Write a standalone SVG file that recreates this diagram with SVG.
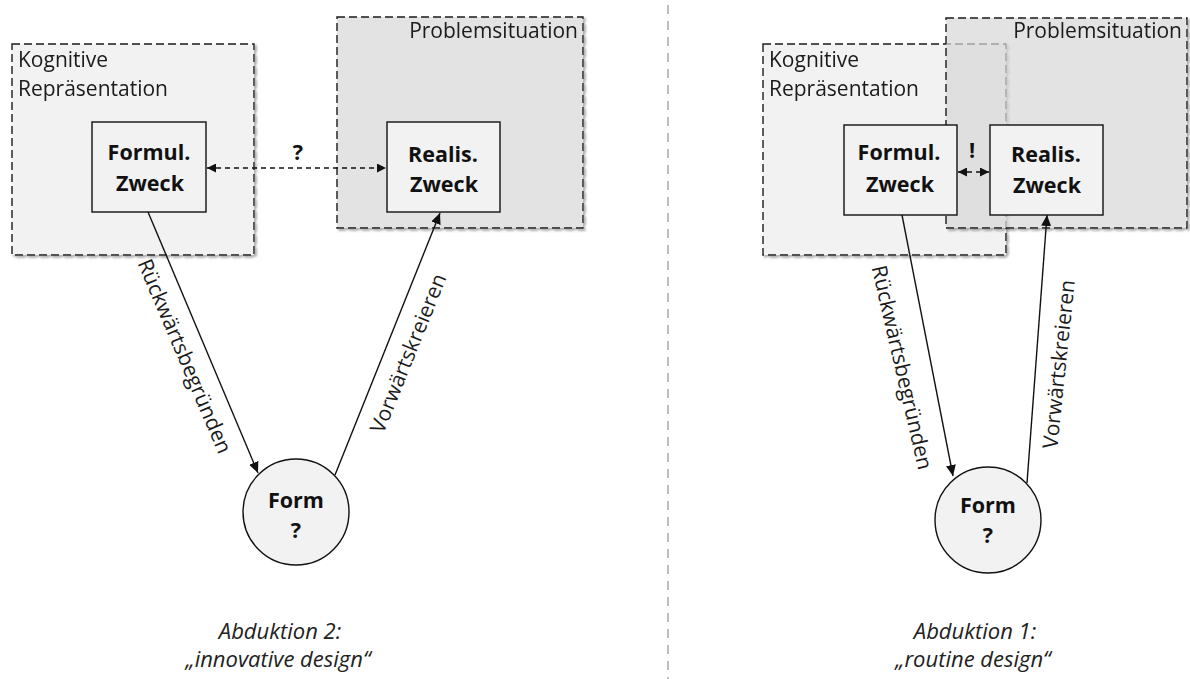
<svg xmlns="http://www.w3.org/2000/svg" width="1190" height="679" viewBox="0 0 1190 679">
  <defs>
    <style>
      .frame { stroke: #1a1a1a; stroke-width: 1.4; stroke-dasharray: 8 4; }
      .cog { fill: #f2f2f2; }
      .prob { fill: #d7d7d7; fill-opacity: 0.71; }
      .box { fill: #f2f2f2; stroke: #111; stroke-width: 1.4; }
      .lbl { font-family: "Open Sans", "Noto Sans", sans-serif; font-size: 21px; fill: #1a1a1a; }
      .bold { font-family: "Open Sans", "Noto Sans", sans-serif; font-size: 21.5px; font-weight: bold; fill: #111; text-anchor: middle; }
      .cap { font-family: "Open Sans", "Noto Sans", sans-serif; font-size: 22px; font-style: italic; fill: #222; text-anchor: middle; }
      .edge { stroke: #111; stroke-width: 1.4; fill: none; }
      .dashed { stroke: #111; stroke-width: 1.4; stroke-dasharray: 5 4; fill: none; }
      .divider { stroke: #bdbdbd; stroke-width: 2; stroke-dasharray: 9 7; }
    </style>
    <!-- soft shadow kept outside the shape so translucent fills stay clean -->
    <filter id="shadow" x="-5%" y="-5%" width="112%" height="112%">
      <feComponentTransfer in="SourceAlpha" result="solid">
        <feFuncA type="linear" slope="100"/>
      </feComponentTransfer>
      <feGaussianBlur in="solid" stdDeviation="1"/>
      <feOffset dx="1.5" dy="1.5" result="blur"/>
      <feComposite in="blur" in2="solid" operator="out" result="sh"/>
      <feFlood flood-color="#000" flood-opacity="0.3"/>
      <feComposite in2="sh" operator="in" result="shadow"/>
      <feMerge>
        <feMergeNode in="shadow"/>
        <feMergeNode in="SourceGraphic"/>
      </feMerge>
    </filter>
    <marker id="head" markerUnits="userSpaceOnUse" markerWidth="12" markerHeight="10" refX="11" refY="5" orient="auto-start-reverse">
      <path d="M0,0 L11,5 L0,10 Z" fill="#111"/>
    </marker>
    <marker id="headSmall" markerUnits="userSpaceOnUse" markerWidth="10" markerHeight="9" refX="9" refY="4.5" orient="auto-start-reverse">
      <path d="M0,0 L9,4.5 L0,9 Z" fill="#111"/>
    </marker>
  </defs>

  <rect width="1190" height="679" fill="#ffffff"/>

  <!-- separator between the two variants -->
  <line class="divider" x1="668" y1="5" x2="668" y2="679"/>

  <!-- ===== left variant: innovative design ===== -->
  <g id="kognitive-left" filter="url(#shadow)">
    <rect class="cog frame" x="12" y="44" width="242" height="211"/>
    <text class="lbl" x="18" y="67">Kognitive</text>
    <text class="lbl" x="18" y="96">Repräsentation</text>
  </g>
  <g id="problem-left" filter="url(#shadow)">
    <rect class="prob frame" x="337" y="17" width="246" height="211"/>
    <text class="lbl" x="578" y="38" text-anchor="end">Problemsituation</text>
  </g>
  <g id="formul-left">
    <rect class="box" x="92" y="122" width="114" height="90"/>
    <text class="bold" x="149" y="160">Formul.</text>
    <text class="bold" x="150" y="191">Zweck</text>
  </g>
  <g id="realis-left">
    <rect class="box" x="387" y="122" width="113" height="90"/>
    <text class="bold" x="443" y="162">Realis.</text>
    <text class="bold" x="444" y="192">Zweck</text>
  </g>
  <g id="form-left">
    <circle cx="296" cy="512" r="53" fill="#f2f2f2" stroke="#111" stroke-width="1.4"/>
    <text class="bold" x="296" y="508">Form</text>
    <text class="bold" x="296" y="538">?</text>
  </g>

  <!-- ===== right variant: routine design ===== -->
  <g id="kognitive-right" filter="url(#shadow)">
    <rect class="cog frame" x="763" y="44" width="243" height="211"/>
    <text class="lbl" x="769" y="67">Kognitive</text>
    <text class="lbl" x="769" y="96">Repräsentation</text>
  </g>
  <g id="problem-right" filter="url(#shadow)">
    <rect class="prob frame" x="946" y="18" width="241" height="210"/>
    <text class="lbl" x="1182" y="38" text-anchor="end">Problemsituation</text>
  </g>
  <g id="formul-right">
    <rect class="box" x="844" y="125" width="113" height="90"/>
    <text class="bold" x="899" y="160">Formul.</text>
    <text class="bold" x="900" y="192">Zweck</text>
  </g>
  <g id="realis-right">
    <rect class="box" x="990" y="125" width="113" height="90"/>
    <text class="bold" x="1046" y="162">Realis.</text>
    <text class="bold" x="1047" y="193">Zweck</text>
  </g>
  <g id="form-right">
    <circle cx="988" cy="520" r="53" fill="#f2f2f2" stroke="#111" stroke-width="1.4"/>
    <text class="bold" x="988" y="513">Form</text>
    <text class="bold" x="988" y="543">?</text>
  </g>

  <!-- connectors with their labels -->
  <g id="connectors">
    <line class="dashed" x1="207" y1="168" x2="386" y2="168" marker-start="url(#headSmall)" marker-end="url(#headSmall)"/>
    <text class="bold" x="298" y="160">?</text>
    <line class="edge" x1="148" y1="212" x2="258" y2="473" marker-end="url(#head)"/>
    <text class="lbl" text-anchor="middle" transform="translate(178 359) rotate(67)">Rückwärtsbegründen</text>
    <line class="edge" x1="335" y1="475" x2="440" y2="213" marker-end="url(#head)"/>
    <text class="lbl" text-anchor="middle" transform="translate(415 356) rotate(-68)">Vorwärtskreieren</text>

    <line class="dashed" x1="958" y1="172" x2="989" y2="172" marker-start="url(#headSmall)" marker-end="url(#headSmall)"/>
    <text class="bold" x="972" y="158">!</text>
    <line class="edge" x1="902" y1="215" x2="953" y2="476" marker-end="url(#head)"/>
    <text class="lbl" text-anchor="middle" transform="translate(895 369) rotate(77)">Rückwärtsbegründen</text>
    <line class="edge" x1="1027" y1="483" x2="1047" y2="215" marker-end="url(#head)"/>
    <text class="lbl" text-anchor="middle" transform="translate(1066 365) rotate(-84)">Vorwärtskreieren</text>
  </g>

  <!-- captions -->
  <g id="caption-left">
    <text class="cap" x="280" y="639">Abduktion 2:</text>
    <text class="cap" x="278" y="667">„innovative design“</text>
  </g>
  <g id="caption-right">
    <text class="cap" x="975" y="639">Abduktion 1:</text>
    <text class="cap" x="973" y="667">„routine design“</text>
  </g>
</svg>
